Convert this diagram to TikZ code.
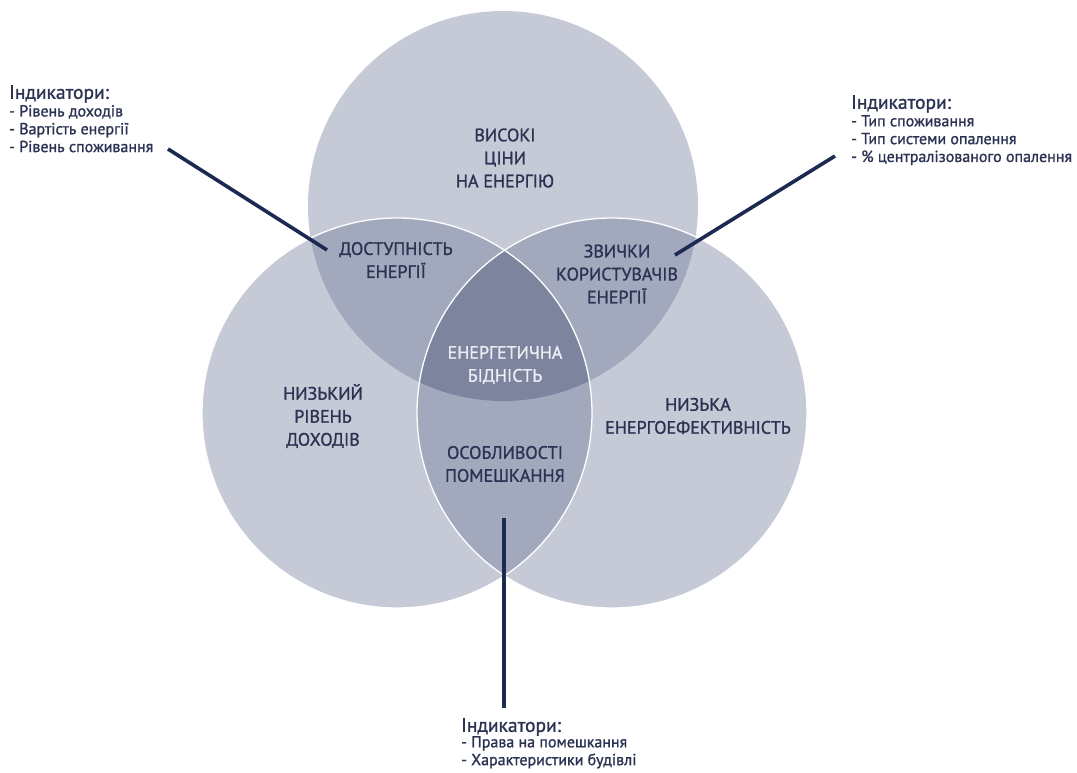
\documentclass[tikz,border=0pt]{standalone}
\usepackage{fontspec}
\setmainfont{PT Sans}
\newfontfamily\vennfont{PT Sans}[FakeBold=1.2]
\usetikzlibrary{positioning}
\definecolor{pale}{HTML}{C6CAD7}
\definecolor{mid}{HTML}{A3A9BD}
\definecolor{deep}{HTML}{7D849E}
\definecolor{ink}{HTML}{2B3252}
\definecolor{navy}{HTML}{1C2A52}
\definecolor{coretext}{HTML}{ECEEF3}
\tikzset{pointer/.style={line width=3.6pt, draw=navy}}

\begin{document}
\begin{tikzpicture}[x=1pt, y=-1pt,
    venn/.style={line width=1.3pt, draw=white},
    area/.style={font=\vennfont\fontsize{18}{23}\selectfont, text=ink, align=center},
    core/.style={area, text=coretext},
    indhead/.style={font=\vennfont\fontsize{19.5}{22}\selectfont, text=ink, inner sep=0pt},
    indlist/.style={font=\vennfont\fontsize{16}{17.8}\selectfont, text=ink, align=left, inner sep=0pt}]
  \useasboundingbox (0,0) rectangle (1077,773);

  \coordinate (cT) at (503,206);
  \coordinate (cL) at (397,413);
  \coordinate (cR) at (612,413);

  % circles and overlaps
  \foreach \c in {cT,cL,cR}
    \fill[pale] (\c) circle (195pt);
  \begin{scope}
    \clip (cT) circle (195pt);
    \fill[mid] (cL) circle (195pt);
    \fill[mid] (cR) circle (195pt);
  \end{scope}
  \begin{scope}
    \clip (cL) circle (195pt);
    \fill[mid] (cR) circle (195pt);
  \end{scope}
  \begin{scope}
    \clip (cT) circle (195pt);
    \clip (cL) circle (195pt);
    \fill[deep] (cR) circle (195pt);
  \end{scope}
  \draw[venn] (cR) circle (195pt);
  \draw[venn] (cL) circle (195pt);

  % labels
  \node[area] (price) at (505,158) {ВИСОКІ\\ЦІНИ\\НА ЕНЕРГІЮ};
  \node[area] (access) at (396,260) {ДОСТУПНІСТЬ\\ЕНЕРГІЇ};
  \node[area] (habit) at (617,274) {ЗВИЧКИ\\КОРИСТУВАЧІВ\\ЕНЕРГІЇ};
  \node[core] (pov) at (505,365) {ЕНЕРГЕТИЧНА\\БІДНІСТЬ};
  \node[area] (income) at (323,416) {НИЗЬКИЙ\\РІВЕНЬ\\ДОХОДІВ};
  \node[area] (effic) at (698,416) {НИЗЬКА\\ЕНЕРГОЕФЕКТИВНІСТЬ};
  \node[area] (house) at (505,464) {ОСОБЛИВОСТІ\\ПОМЕШКАННЯ};

  % indicators
  \node[indhead, anchor=north west] (hA) at (9,85) {Індикатори:};
  \node[indlist, below right=2pt and 0pt of hA.south west] (lA) {- Рівень доходів\\- Вартість енергії\\- Рівень споживання};
  \node[indhead, anchor=north west] (hB) at (851,95) {Індикатори:};
  \node[indlist, below right=2pt and 0pt of hB.south west] (lB) {- Тип споживання\\- Тип системи опалення\\- \% централізованого опалення};
  \node[indhead, anchor=north west] (hC) at (461,718) {Індикатори:};
  \node[indlist, below right=0pt and 0pt of hC.south west] (lC) {- Права на помешкання\\- Характеристики будівлі};

  \coordinate (pA) at (168,149);
  \coordinate (qA) at (327,250);
  \coordinate (pB) at (835,156);
  \coordinate (qB) at (675,255);
  \coordinate (pC) at (504,708);
  \coordinate (qC) at (504,518);
  \draw[pointer] (pA) -- (qA);
  \draw[pointer] (pB) -- (qB);
  \draw[pointer] (pC) -- (qC);
\end{tikzpicture}
\end{document}
